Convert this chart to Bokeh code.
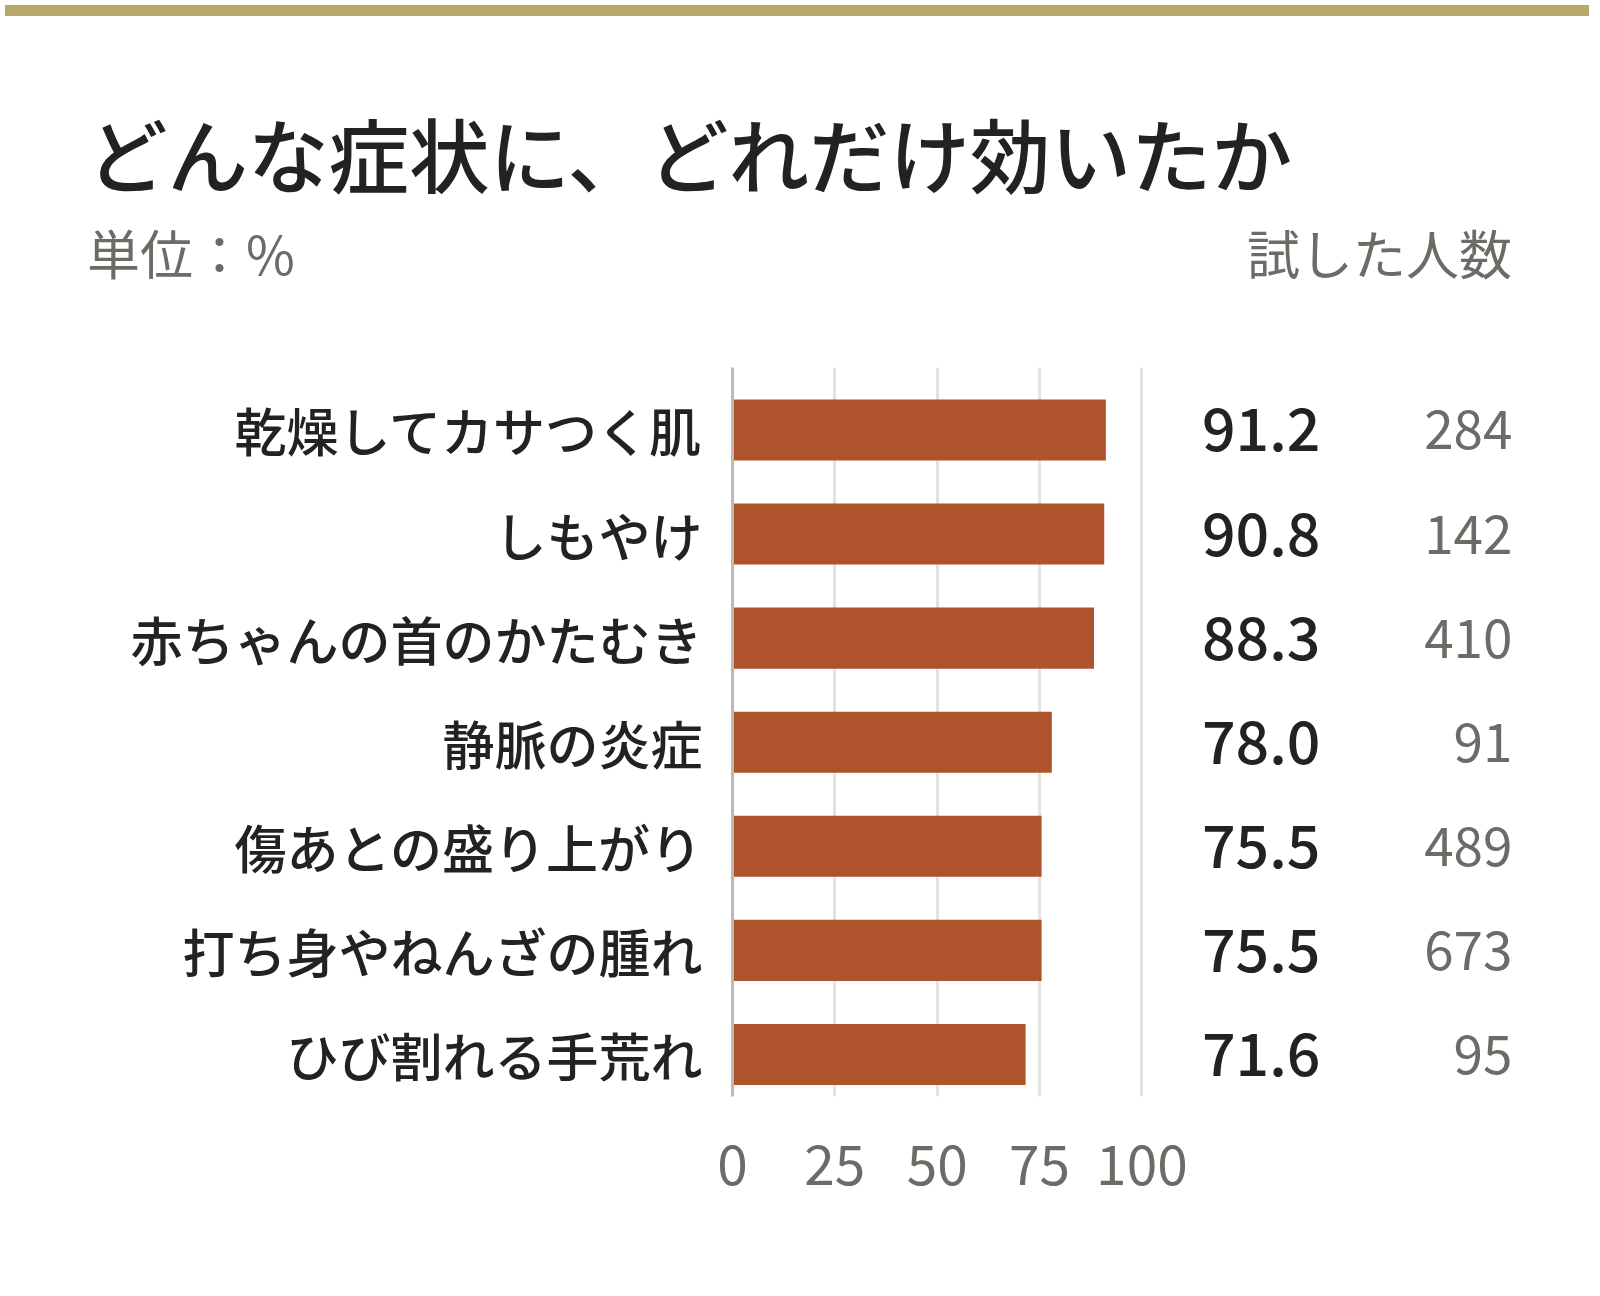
from bokeh.core.properties import value
from bokeh.embed import file_html
from bokeh.layouts import column
from bokeh.models import ColumnDataSource, Div, FixedTicker, Range1d
from bokeh.plotting import figure
from bokeh.resources import INLINE

# data
symptoms = [
    "乾燥してカサつく肌",
    "しもやけ",
    "赤ちゃんの首のかたむき",
    "静脈の炎症",
    "傷あとの盛り上がり",
    "打ち身やねんざの腫れ",
    "ひび割れる手荒れ",
]
rates = [91.2, 90.8, 88.3, 78.0, 75.5, 75.5, 71.6]
testers = [284, 142, 410, 91, 489, 673, 95]
x_ticks = [0, 25, 50, 75, 100]

title = "どんな症状に、どれだけ効いたか"
unit_note = "単位：%"
count_head = "試した人数"

FONT = "Noto Sans CJK JP"
FONT_MED = "'Noto Sans CJK JP Medium', 'Noto Sans CJK JP'"
BAR = "#ae532b"
DARK = "#222222"
GREY = "#6c6c66"

W = 1584
HEAD_H = 300
H = 1280 - 11 - HEAD_H

rows = list(range(len(symptoms)))
source = ColumnDataSource(data=dict(
    row=rows,
    rate=rates,
    rate_txt=["%.1f" % r for r in rates],
    n_txt=[str(n) for n in testers],
))

p = figure(
    width=W, height=H,
    x_range=Range1d(0, 204.2),
    y_range=Range1d(len(symptoms) - 1 + 0.404, -0.6),
    toolbar_location=None, tools="",
    output_backend="svg",
    min_border_left=732, min_border_right=16,
    min_border_top=36, min_border_bottom=204,
)
p.outline_line_color = None
p.background_fill_color = "white"
p.border_fill_color = "white"

p.hbar(y="row", right="rate", left=0, height=0.587, source=source,
       fill_color=BAR, line_color=None)

# value + number of testers columns
p.text(x=143.6, y="row", text="rate_txt", source=source,
       text_font=value(FONT_MED), text_font_size="59px",
       text_color=DARK, text_align="right", text_baseline="middle")
p.text(x=190.5, y="row", text="n_txt", source=source,
       text_font=value(FONT), text_font_size="53px",
       text_color=GREY, text_align="right", text_baseline="middle")

# grid
p.ygrid.grid_line_color = None
p.xgrid.ticker = FixedTicker(ticks=[25, 50, 75, 100])
p.xgrid.grid_line_color = "#e5e3de"
p.xgrid.grid_line_width = 3

# y axis (categories)
p.yaxis.ticker = FixedTicker(ticks=rows)
p.yaxis.major_label_overrides = {i: s for i, s in enumerate(symptoms)}
p.yaxis.axis_line_color = "#bdb9b1"
p.yaxis.axis_line_width = 3
p.yaxis.major_tick_line_color = None
p.yaxis.minor_tick_line_color = None
p.yaxis.major_label_standoff = 24
p.yaxis.major_label_text_font = FONT_MED
p.yaxis.major_label_text_font_size = "52px"
p.yaxis.major_label_text_color = DARK

# x axis
p.xaxis.ticker = FixedTicker(ticks=x_ticks)
p.xaxis.axis_line_color = None
p.xaxis.major_tick_line_color = None
p.xaxis.minor_tick_line_color = None
p.xaxis.major_label_standoff = 42
p.xaxis.major_label_text_font = FONT
p.xaxis.major_label_text_font_size = "55px"
p.xaxis.major_label_text_color = GREY

band = Div(width=W, height=11, styles={"background-color": "#b9a868"})

head_html = f"""
<div style="position:relative;width:{W}px;height:{HEAD_H}px;font-family:'{FONT}';">
  <div style="position:absolute;left:82px;top:86px;font-size:80.5px;font-weight:500;
              font-family:{FONT_MED};
              line-height:1;color:{DARK};white-space:nowrap;">{title}</div>
  <div style="position:absolute;left:82px;top:200px;font-size:53px;
              line-height:1;color:{GREY};white-space:nowrap;">{unit_note}</div>
  <div style="position:absolute;right:77px;top:200px;font-size:53px;
              line-height:1;color:{GREY};white-space:nowrap;">{count_head}</div>
</div>
"""
head = Div(text=head_html, width=W, height=HEAD_H)

page = column(band, head, p, spacing=0)

open("out.html", "w").write(file_html(page, INLINE))
